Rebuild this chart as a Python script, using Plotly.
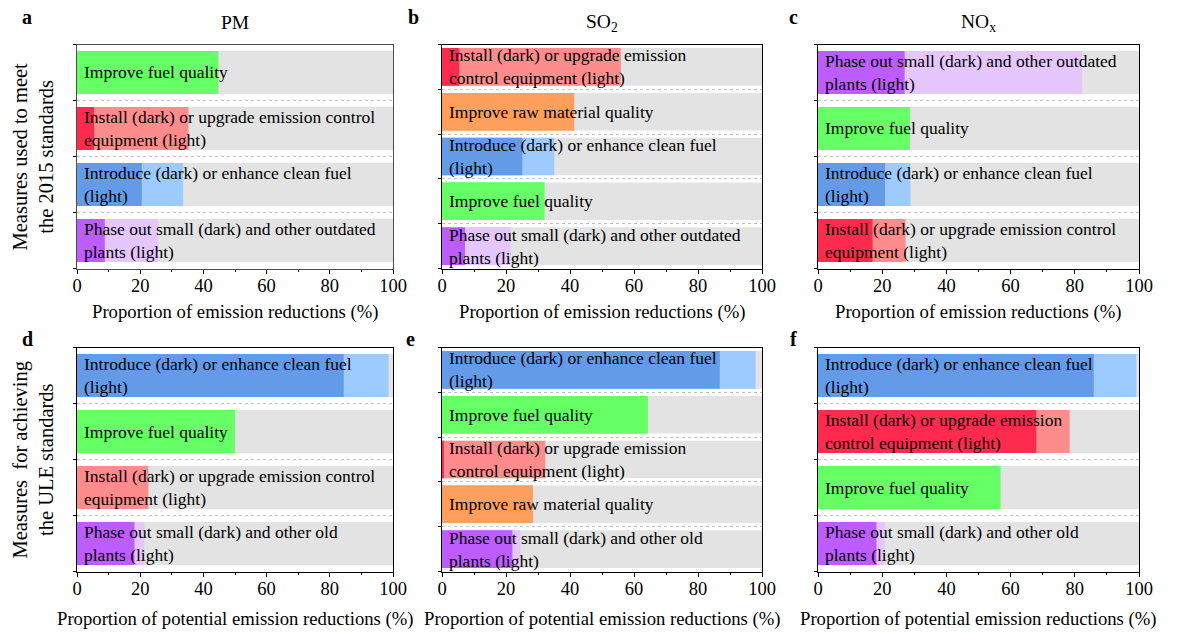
import plotly.graph_objects as go

# ---------------- data ----------------
# 2015 standards (top row)
pm_2015_kind = ["fuel", "install", "introduce", "phase"]
pm_2015_labels = ["Improve fuel quality",
                  "Install (dark) or upgrade emission control<br>equipment (light)",
                  "Introduce (dark) or enhance clean fuel<br>(light)",
                  "Phase out small (dark) and other outdated<br>plants (light)"]
pm_2015_dark = [44.7, 5.4, 20.5, 8.8]
pm_2015_total = [44.7, 35.3, 33.6, 25.7]

so2_2015_kind = ["install", "raw", "introduce", "fuel", "phase"]
so2_2015_labels = ["Install (dark) or upgrade emission<br>control equipment (light)",
                   "Improve raw material quality",
                   "Introduce (dark) or enhance clean fuel<br>(light)",
                   "Improve fuel quality",
                   "Phase out small (dark) and other outdated<br>plants (light)"]
so2_2015_dark = [5.4, 41.3, 25.1, 32.0, 7.2]
so2_2015_total = [55.9, 41.3, 35.1, 32.0, 21.4]

nox_2015_kind = ["phase", "fuel", "introduce", "install"]
nox_2015_labels = ["Phase out small (dark) and other outdated<br>plants (light)",
                   "Improve fuel quality",
                   "Introduce (dark) or enhance clean fuel<br>(light)",
                   "Install (dark) or upgrade emission control<br>equipment (light)"]
nox_2015_dark = [27.0, 28.6, 20.9, 17.0]
nox_2015_total = [82.3, 28.6, 28.8, 27.3]

# ULE standards (bottom row)
pm_ule_kind = ["introduce", "fuel", "install", "phase"]
pm_ule_labels = ["Introduce (dark) or enhance clean fuel<br>(light)",
                 "Improve fuel quality",
                 "Install (dark) or upgrade emission control<br>equipment (light)",
                 "Phase out small (dark) and other old<br>plants (light)"]
pm_ule_dark = [84.4, 49.9, 0.0, 18.2]
pm_ule_total = [98.6, 49.9, 22.6, 21.3]

so2_ule_kind = ["introduce", "fuel", "install", "raw", "phase"]
so2_ule_labels = ["Introduce (dark) or enhance clean fuel<br>(light)",
                  "Improve fuel quality",
                  "Install (dark) or upgrade emission<br>control equipment (light)",
                  "Improve raw material quality",
                  "Phase out small (dark) and other old<br>plants (light)"]
so2_ule_dark = [86.8, 64.3, 0.4, 28.4, 22.0]
so2_ule_total = [98.0, 64.3, 32.3, 28.4, 24.5]

nox_ule_kind = ["introduce", "install", "fuel", "phase"]
nox_ule_labels = ["Introduce (dark) or enhance clean fuel<br>(light)",
                  "Install (dark) or upgrade emission<br>control equipment (light)",
                  "Improve fuel quality",
                  "Phase out small (dark) and other old<br>plants (light)"]
nox_ule_dark = [85.9, 68.0, 56.8, 18.2]
nox_ule_total = [99.2, 78.4, 56.8, 20.8]

pollutants = ["PM", "SO<sub>2</sub>", "NO<sub>x</sub>"]
panel_letters = ["a", "b", "c", "d", "e", "f"]
x_titles = ["Proportion of emission reductions (%)",
            "Proportion of potential emission reductions (%)"]
y_titles = ["Measures used to meet<br>the 2015 standards",
            "Measures\u00a0 for achieving<br>the ULE standards"]
x_ticks = [0, 20, 40, 60, 80, 100]
x_minor = [10, 30, 50, 70, 90]

# ---------------- style ----------------
COLORS = {  # (dark, light)
    "fuel": ("#66ff66", "#66ff66"),
    "install": ("#ff2b4e", "#ff8c8c"),
    "introduce": ("#639be8", "#9ecbff"),
    "phase": ("#bd5cff", "#e5c6ff"),
    "raw": ("#ff9f5c", "#ff9f5c"),
}
GRAY = "#e3e3e3"
FONT = "Liberation Serif"
W, H = 1190, 635

panels = [
    (pm_2015_kind, pm_2015_labels, pm_2015_dark, pm_2015_total),
    (so2_2015_kind, so2_2015_labels, so2_2015_dark, so2_2015_total),
    (nox_2015_kind, nox_2015_labels, nox_2015_dark, nox_2015_total),
    (pm_ule_kind, pm_ule_labels, pm_ule_dark, pm_ule_total),
    (so2_ule_kind, so2_ule_labels, so2_ule_dark, so2_ule_total),
    (nox_ule_kind, nox_ule_labels, nox_ule_dark, nox_ule_total),
]

cols_px = [(77, 393), (442, 762), (818, 1139)]
rows_px = [(44.5, 268.5), (347.5, 571.5)]
letter_px = [(27, 17), (413, 17), (793, 17), (27, 339), (410, 339), (793, 339)]


def px(x):
    return x / W


def py(y):
    return 1 - y / H


fig = go.Figure()
layout = dict(
    width=W, height=H, autosize=False,
    margin=dict(l=0, r=0, t=0, b=0, pad=0),
    paper_bgcolor="white", plot_bgcolor="white",
    barmode="overlay", showlegend=False,
    font=dict(family=FONT, color="black", size=16),
)
annotations = []

for i, (kind, labels, dark, total) in enumerate(panels):
    r, c = divmod(i, 3)
    n = len(kind)
    ys = list(range(n))
    w = 0.77 if n == 4 else 0.84
    sfx = "" if i == 0 else str(i + 1)
    xa, ya = "x" + sfx, "y" + sfx

    fig.add_trace(go.Bar(x=[100] * n, y=ys, orientation="h", width=w,
                         marker=dict(color=GRAY, line=dict(width=0)),
                         hoverinfo="skip", xaxis=xa, yaxis=ya))
    fig.add_trace(go.Bar(x=total, y=ys, orientation="h", width=w,
                         marker=dict(color=[COLORS[k][1] for k in kind], line=dict(width=0)),
                         xaxis=xa, yaxis=ya))
    fig.add_trace(go.Bar(x=dark, y=ys, orientation="h", width=w,
                         marker=dict(color=[COLORS[k][0] for k in kind], line=dict(width=0)),
                         xaxis=xa, yaxis=ya))

    x0, x1 = cols_px[c]
    y0, y1 = rows_px[r]
    lc = "#4d4d4d" if i == 0 else "black"
    layout["xaxis" + sfx] = dict(
        domain=[px(x0), px(x1)], anchor=ya, range=[0, 100],
        tickvals=x_ticks, ticks="outside", ticklen=4, tickwidth=1, tickcolor="black",
        minor=dict(tickvals=x_minor, ticks="outside", ticklen=2, tickcolor="black"),
        showline=True, mirror=True, linecolor=lc, linewidth=1,
        showgrid=False, zeroline=False, tickfont=dict(size=18.5, family=FONT),
        ticklabelstandoff=-4,
        fixedrange=True, automargin=False,
    )
    layout["yaxis" + sfx] = dict(
        domain=[py(y1), py(y0)], anchor=xa, range=[n - 0.5, -0.5],
        tickvals=[k - 0.5 for k in range(n + 1)], showticklabels=False,
        ticks="outside", ticklen=3, tickcolor="black",
        showgrid=True, gridcolor="#c4c4c4", griddash="dot", gridwidth=1,
        showline=True, mirror=True, linecolor=lc, linewidth=1,
        zeroline=False, fixedrange=True, automargin=False,
    )

    for k, lab in enumerate(labels):
        annotations.append(dict(x=1.5, y=k, xref=xa, yref=ya, text=lab,
                                showarrow=False, xanchor="left", yanchor="middle",
                                align="left", font=dict(size=17.5, family=FONT, color="black")))

    lx, ly = letter_px[i]
    annotations.append(dict(x=px(lx), y=py(ly), xref="paper", yref="paper",
                            text="<b>%s</b>" % panel_letters[i], showarrow=False,
                            xanchor="center", yanchor="middle",
                            font=dict(size=20, family=FONT, color="black")))

    annotations.append(dict(x=px((x0 + x1) / 2), y=py(312 if r == 0 else 619),
                            xref="paper", yref="paper", text=x_titles[r],
                            showarrow=False, xanchor="center", yanchor="middle",
                            font=dict(size=18.7, family=FONT, color="black")))

for c in range(3):
    x0, x1 = cols_px[c]
    annotations.append(dict(x=px((x0 + x1) / 2), y=py(23), xref="paper", yref="paper",
                            text=pollutants[c], showarrow=False,
                            xanchor="center", yanchor="middle",
                            font=dict(size=19.5, family=FONT, color="black")))

for r in range(2):
    y0, y1 = rows_px[r]
    annotations.append(dict(x=px(33), y=py((y0 + y1) / 2), xref="paper", yref="paper",
                            text=y_titles[r], showarrow=False, textangle=-90,
                            xanchor="center", yanchor="middle",
                            font=dict(size=20.5, family=FONT, color="black")))

layout["annotations"] = annotations
fig.update_layout(**layout)
fig.write_html(
    "out.html",
    config={"responsive": False, "displayModeBar": False},
    post_script="document.body.style.margin='0';document.body.style.padding='0';"
                "document.body.style.overflow='hidden';",
)
